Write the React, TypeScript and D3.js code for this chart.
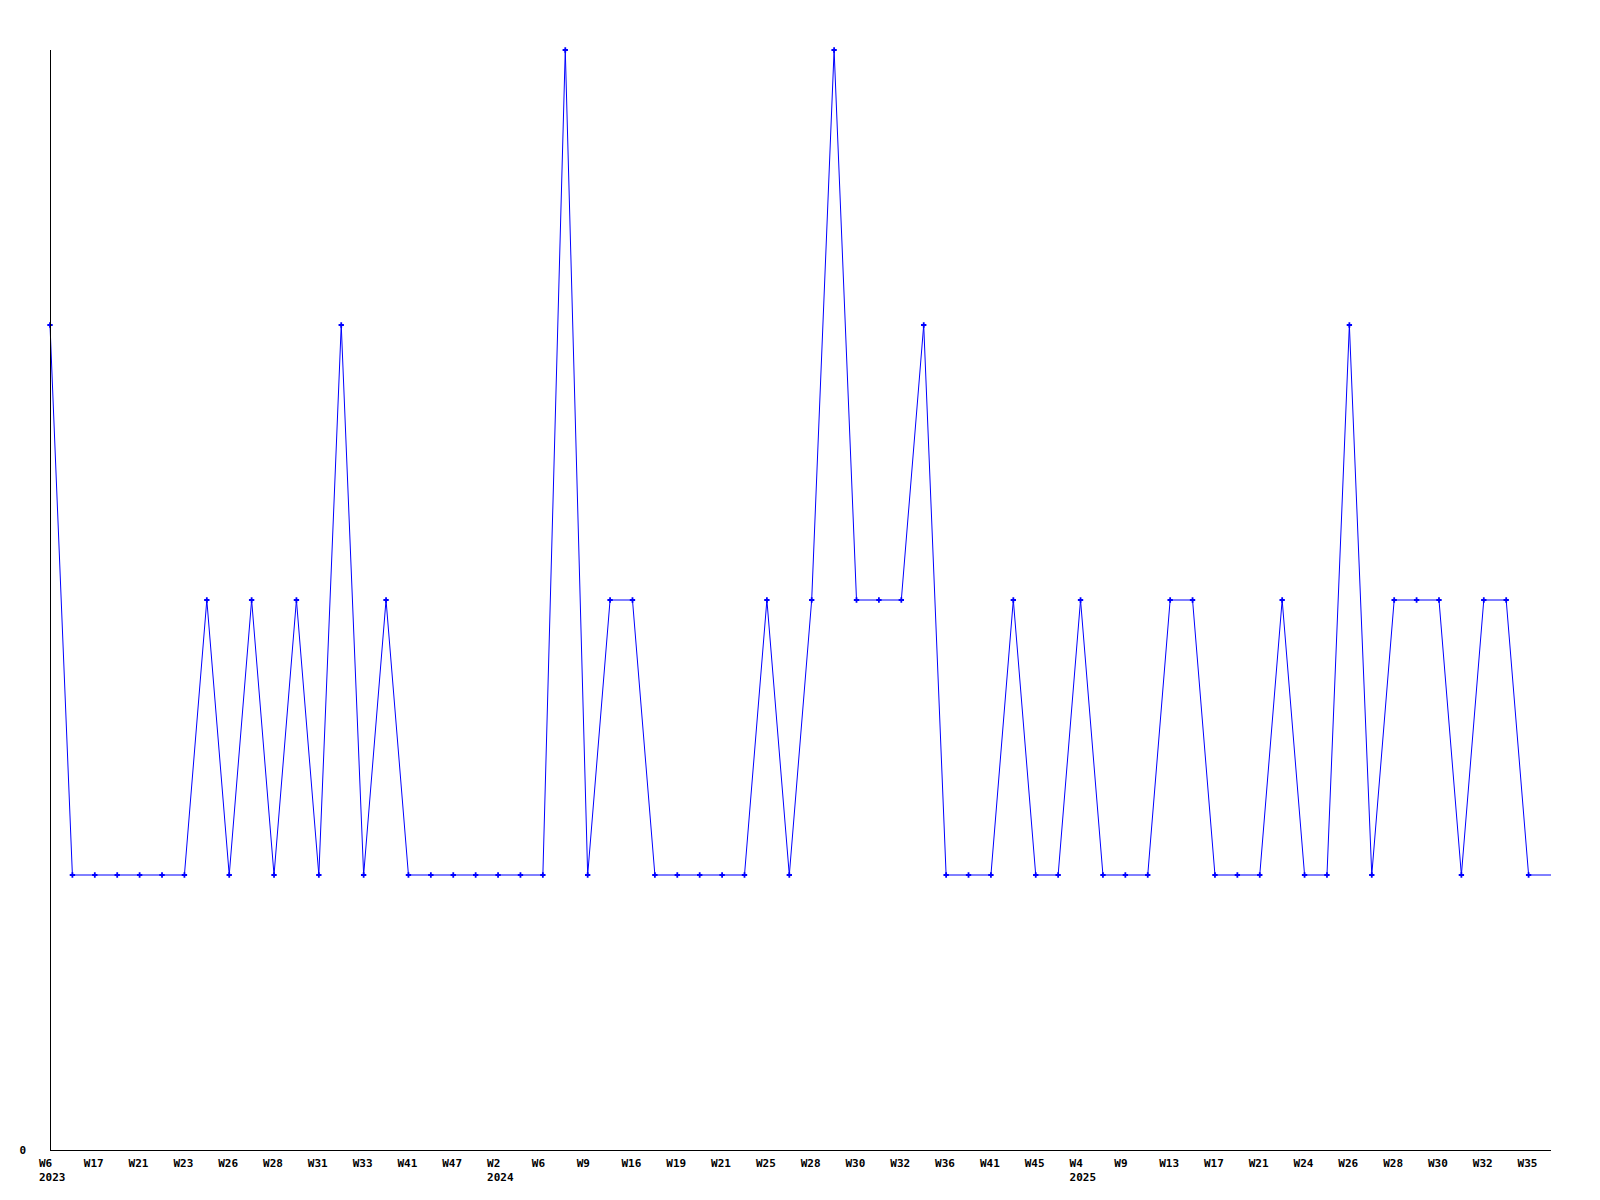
import React from "react";
import * as d3 from "d3";

const weekLabels: string[] = [
  "W6", "", "W17", "", "W21", "", "W23", "", "W26", "", "W28", "", "W31", "", "W33", "", "W41", "", "W47", "",
  "W2", "", "W6", "", "W9", "", "W16", "", "W19", "", "W21", "", "W25", "", "W28", "", "W30", "", "W32", "",
  "W36", "", "W41", "", "W45", "", "W4", "", "W9", "", "W13", "", "W17", "", "W21", "", "W24", "", "W26", "",
  "W28", "", "W30", "", "W32", "", "W35", "", ""
];

const yearLabels: { index: number; year: string }[] = [
  { index: 0, year: "2023" },
  { index: 20, year: "2024" },
  { index: 46, year: "2025" },
];

const values: number[] = [
  3, 1, 1, 1, 1, 1, 1, 2, 1, 2, 1, 2, 1, 3, 1, 2, 1, 1, 1, 1,
  1, 1, 1, 4, 1, 2, 2, 1, 1, 1, 1, 1, 2, 1, 2, 4, 2, 2, 2, 3,
  1, 1, 1, 2, 1, 1, 2, 1, 1, 1, 2, 2, 1, 1, 1, 2, 1, 1, 3, 1,
  2, 2, 2, 1, 2, 2, 1, 1
];

const yTicks: number[] = [0];

export default function App() {
  const W = 1600, H = 1200;
  const left = 50, right = 1551, top = 50, bottom = 1150;
  const n = values.length;
  const x = d3.scaleLinear().domain([0, n - 1]).range([left, right]);
  const y = d3.scaleLinear().domain([0, 4]).range([bottom, top]);
  const line = d3.line<number>().x((_, i) => x(i)).y((d) => y(d));
  const sym = d3.symbol().type(d3.symbolCross).size(16)() as string;
  const font = "'DejaVu Sans Mono', monospace";

  return (
    <svg width={W} height={H} style={{ position: "absolute", left: 0, top: 0, background: "#fff" }}>
      <defs>
        <clipPath id="plot">
          <rect x={left - 5} y={top - 5} width={right - left + 5} height={bottom - top + 10} />
        </clipPath>
        <clipPath id="marks">
          <rect x={left - 5} y={top - 5} width={right - left - 3} height={bottom - top + 10} />
        </clipPath>
      </defs>
      <g clipPath="url(#plot)">
        <path d={line(values) as string} fill="none" stroke="#0000ff" strokeWidth={1} />
      </g>
      <g clipPath="url(#marks)">
        {values.map((v, i) => (
          <path key={i} d={sym} transform={`translate(${x(i)},${y(v)})`} fill="#0000ff" />
        ))}
      </g>
      <line x1={left + 0.5} x2={left + 0.5} y1={top} y2={bottom} stroke="#000" strokeWidth={1} shapeRendering="crispEdges" />
      <line x1={left} x2={right} y1={bottom + 0.5} y2={bottom + 0.5} stroke="#000" strokeWidth={1} shapeRendering="crispEdges" />
      {yTicks.map((t) => (
        <text key={t} x={26} y={y(t) + 4} textAnchor="end" fontFamily={font} fontWeight="bold" fontSize={11} fill="#000">
          {t}
        </text>
      ))}
      {weekLabels.map((l, i) =>
        l ? (
          <text key={i} x={x(i) - 11} y={1167} fontFamily={font} fontWeight="bold" fontSize={11} fill="#000">
            {l}
          </text>
        ) : null
      )}
      {yearLabels.map((yl) => (
        <text key={yl.year} x={x(yl.index) - 11} y={1181} fontFamily={font} fontWeight="bold" fontSize={11} fill="#000">
          {yl.year}
        </text>
      ))}
    </svg>
  );
}
